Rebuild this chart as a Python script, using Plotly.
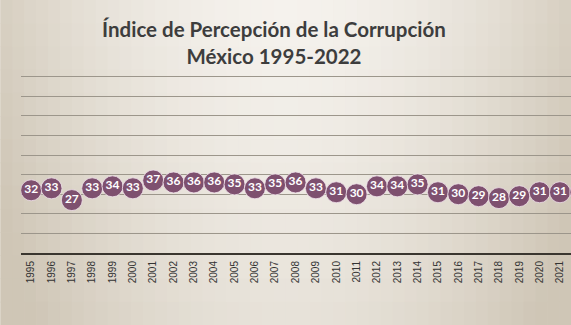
import plotly.graph_objects as go

# Corruption Perceptions Index for Mexico, 1995-2022
years = [str(y) for y in range(1995, 2023)]
cpi = [32, 33, 27, 33, 34, 33, 37, 36, 36, 36, 35, 33, 35, 36,
       33, 31, 30, 34, 34, 35, 31, 30, 29, 28, 29, 31, 31, 31]

W, H = 571, 325
plot_left, plot_right = 20.5, 590.5   # plot area extends past the right edge
plot_top, plot_bottom = 57, 253
band = (plot_right - plot_left) / len(years)
x_max = -0.5 + (W - plot_left) / band

def px_to_paper_x(px):
    return (px - plot_left) / (W - plot_left)

def px_to_paper_y(py):
    return (plot_bottom - py) / (plot_bottom - plot_top)

# Soft beige backdrop: light in the upper middle, darker toward the edges
light = (245, 242, 237)
dark = (207, 198, 182)
shapes = []
ncols, nrows = 48, 14
for i in range(ncols):
    for j in range(nrows):
        cx = (i + 0.5) / ncols
        cy = (j + 0.5) / nrows
        tx = abs(cx - 0.5) / 0.5
        t = min(1.0, 0.8 * tx ** 1.8 + 0.38 * cy ** 1.2)
        c = tuple(round(light[k] + (dark[k] - light[k]) * t) for k in range(3))
        x0 = W * i / ncols
        x1 = W * (i + 1) / ncols
        y0 = H * j / nrows
        y1 = H * (j + 1) / nrows
        shapes.append(dict(
            type="rect", xref="paper", yref="paper", layer="below",
            x0=px_to_paper_x(x0), x1=px_to_paper_x(x1 + 0.6),
            y0=px_to_paper_y(y0), y1=px_to_paper_y(y1 + 0.6),
            fillcolor="rgb(%d,%d,%d)" % c, line=dict(width=0),
        ))

fig = go.Figure()
fig.add_trace(go.Scatter(
    x=years, y=cpi, mode="markers+text",
    text=[str(v) for v in cpi], textposition="middle center",
    textfont=dict(family="Lato", size=12, color="white", weight="bold"),
    marker=dict(size=21, color="#7E506F",
                line=dict(color="rgba(240,225,235,0.8)", width=1)),
    cliponaxis=True, hoverinfo="skip",
))

fig.update_layout(
    width=W, height=H,
    margin=dict(l=plot_left, r=0, t=plot_top, b=H - plot_bottom, pad=0),
    paper_bgcolor="#E6E0D6", plot_bgcolor="rgba(0,0,0,0)",
    showlegend=False,
    shapes=shapes,
    title=dict(
        text="Índice de Percepción de la Corrupción<br>México 1995-2022",
        x=274 / W, xanchor="center", xref="container",
        y=1 - 37 / H, yanchor="middle", yref="container",
        font=dict(family="Lato", size=20.5, color="#3D3D3D", weight="bold"),
    ),
    xaxis=dict(
        type="category", range=[-0.5, x_max],
        showgrid=False, showline=True, linecolor="#3A362F", linewidth=2,
        ticks="", tickangle=-90, ticklabelstandoff=2,
        tickfont=dict(family="Liberation Sans", size=10, color="#333333"),
    ),
    yaxis=dict(
        range=[0, 100], dtick=10, showticklabels=False,
        showgrid=True, gridcolor="#9C968B", gridwidth=1,
        zeroline=False, showline=False, ticks="",
    ),
)

fig.write_html("out.html")
